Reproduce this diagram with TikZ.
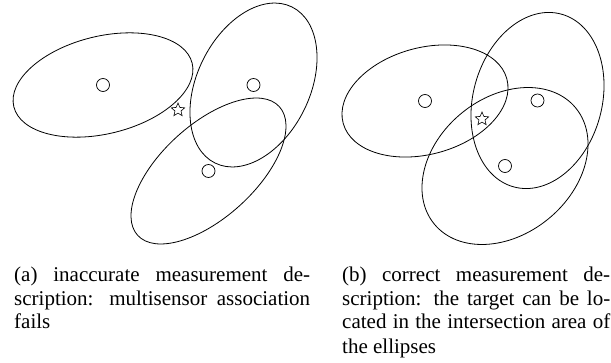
\documentclass[tikz,border=0pt]{standalone}
\usepackage{fontspec}
\setmainfont{Liberation Serif}
\usetikzlibrary{shapes.geometric}

\begin{document}
\begin{tikzpicture}[x=1pt,y=1pt,
  sensor/.style={draw,circle,minimum size=13pt,inner sep=0pt,line width=0.7pt},
  target/.style={draw,star,star points=5,star point ratio=2.2,minimum size=14pt,inner sep=0pt,line width=0.6pt},
  capt/.style={anchor=base west,inner sep=0pt,align=justify,font=\fontsize{21}{24}\selectfont}]
  \useasboundingbox (0,0) rectangle (611,362);
  % (a) the three ellipses miss the target
  \draw[line width=0.8pt,rotate around={13.7:(103,277)}] (103,277) ellipse [x radius=91.8,y radius=48.8];
  \draw[line width=0.8pt,rotate around={63.8:(253.5,277)}] (253.5,277) ellipse [x radius=87,y radius=56.4];
  \draw[line width=0.8pt,rotate around={42.2:(208.5,191)}] (208.5,191) ellipse [x radius=95.7,y radius=46.6];
  \node[sensor] (a1) at (103,277) {};
  \node[sensor] (a2) at (253.5,277) {};
  \node[sensor] (a3) at (208.5,191) {};
  \node[target] (ta) at (178,252) {};
  % (b) the three ellipses meet at the target
  \draw[line width=0.8pt,rotate around={15.2:(425,261)}] (425,261) ellipse [x radius=84.8,y radius=53.3];
  \draw[line width=0.8pt,rotate around={74.5:(537.5,261.5)}] (537.5,261.5) ellipse [x radius=89.6,y radius=64.4];
  \draw[line width=0.8pt,rotate around={39.3:(505,196)}] (505,196) ellipse [x radius=91.5,y radius=68.4];
  \node[sensor] (b1) at (425,261) {};
  \node[sensor] (b2) at (537.5,261.5) {};
  \node[sensor] (b3) at (505,196) {};
  \node[target] (tb) at (482,243) {};
  % captions
  \node[capt,text width=296pt] (capa) at (14,81)
    {(a) inaccurate measurement de-\linebreak scription: multisensor association\linebreak fails};
  \node[capt,text width=268pt] (capb) at (342,81)
    {(b) correct measurement de-\linebreak scription: the target can be lo-\linebreak cated in the intersection area of\linebreak the ellipses};
\end{tikzpicture}
\end{document}
